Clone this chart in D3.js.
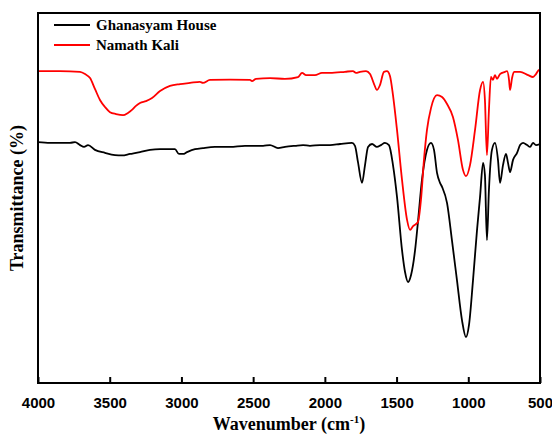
<!DOCTYPE html>
<html>
<head>
<meta charset="utf-8">
<script src="https://cdn.jsdelivr.net/npm/d3@7"></script>
<style>
  body { margin: 0; background: #fff; }
  svg { display: block; }
</style>
</head>
<body>
<svg id="chart" width="552" height="434"></svg>
<script>
// FTIR spectra: wavenumber (cm-1) vs transmittance (%)
const xTicks = [4000, 3500, 3000, 2500, 2000, 1500, 1000, 500];

const seriesNames = ['Ghanasyam House', 'Namath Kali'];
const seriesColors = ['#000000', '#ff0000'];

// Ghanasyam House (black)
const houseWave = [4000,3916,3847,3777,3742,3707,3679,3651,3603,3533,3463,3414,3359,3289,3219,3149,3080,3045,3017,2989,2961,2905,2850,2766,2661,2557,2431,2382,2327,2278,2208,2152,2104,2034,1964,1894,1811,1790,1769,1741,1720,1699,1671,1637,1609,1581,1553,1525,1497,1462,1441,1420,1399,1371,1351,1323,1288,1260,1239,1218,1197,1183,1148,1114,1079,1044,1016,995,967,939,918,897,884,870,856,835,814,793,779,758,737,723,709,688,660,639,618,590,569,549,528,500];
const houseT = [65.1,64.9,64.9,64.9,65.1,64.3,63.8,64.3,63.0,62.2,61.6,61.5,61.9,62.4,63.0,63.2,63.2,63.2,61.9,61.9,62.4,63.2,63.5,63.8,63.8,64.1,64.1,64.3,63.5,63.8,64.1,64.3,64.1,64.3,64.3,64.6,64.9,64.1,59.7,54.1,58.9,63.8,64.6,63.8,64.3,64.9,64.3,58.9,50.3,35.9,30.0,27.3,29.2,35.9,43.5,54.9,63.0,64.9,63.0,56.8,54.1,53.0,48.6,38.6,27.8,17.0,12.4,15.7,27.8,41.4,50.3,59.5,56.2,38.6,52.2,63.0,64.9,60.3,54.1,58.9,61.9,59.5,57.0,60.3,62.2,64.3,64.9,64.3,63.8,64.9,64.3,64.6];

// Namath Kali (red)
const kaliWave = [4000,3847,3707,3672,3637,3603,3568,3533,3498,3456,3407,3373,3345,3317,3289,3247,3205,3149,3080,3010,2940,2871,2850,2801,2661,2522,2508,2480,2382,2278,2187,2159,2131,2069,2020,1964,1860,1804,1783,1755,1713,1685,1657,1637,1616,1588,1567,1546,1525,1497,1462,1427,1406,1385,1351,1330,1309,1288,1260,1218,1183,1148,1107,1072,1037,1016,988,953,918,897,884,870,856,842,828,814,800,779,744,730,716,709,695,681,639,583,549,528,507,500];
const kaliT = [84.3,84.3,84.1,83.5,82.4,79.5,76.5,74.6,73.2,72.7,72.4,73.0,73.8,74.9,75.7,76.2,77.0,78.9,80.3,80.8,81.1,81.4,81.1,81.9,82.0,81.9,81.6,82.2,82.4,82.2,82.7,83.8,83.2,83.2,83.8,83.8,84.1,84.3,83.8,84.1,84.3,83.5,80.8,79.2,80.5,84.1,84.3,83.0,77.8,68.4,54.9,44.1,41.4,42.4,43.5,49.5,60.3,68.4,74.3,77.8,77.3,75.4,71.9,65.7,57.6,55.9,58.9,68.4,79.2,81.4,76.5,61.6,73.8,82.7,81.9,83.2,82.2,83.5,84.1,84.3,81.9,79.2,82.4,84.1,84.1,83.2,82.7,83.5,84.6,84.3];

const margin = {top: 13, right: 12, bottom: 51, left: 38};
const width = 552 - margin.left - margin.right;
const height = 434 - margin.top - margin.bottom;

const svg = d3.select('#chart');
const g = svg.append('g')
    .attr('transform', `translate(${margin.left},${margin.top})`);

const x = d3.scaleLinear().domain([4000, 500]).range([0, width]);
const y = d3.scaleLinear().domain([0, 100]).range([height, 0]);

const series = [
  houseWave.map((w, i) => ({w, t: houseT[i]})),
  kaliWave.map((w, i) => ({w, t: kaliT[i]}))
];

const line = d3.line()
  .x(d => x(d.w))
  .y(d => y(d.t))
  .curve(d3.curveMonotoneX);

series.forEach((data, i) => {
  g.append('path')
    .datum(data)
    .attr('fill', 'none')
    .attr('stroke', seriesColors[i])
    .attr('stroke-width', 1.8)
    .attr('stroke-linejoin', 'round')
    .attr('d', line);
});

// Bottom axis, ticks pointing inward
const xAxis = g.append('g')
  .attr('transform', `translate(0,${height})`)
  .call(d3.axisBottom(x).tickValues(xTicks).tickFormat(d3.format('d'))
    .tickSizeInner(-6).tickSizeOuter(0).tickPadding(14));
xAxis.select('.domain').remove();
xAxis.selectAll('line').attr('stroke', '#000').attr('stroke-width', 2);
xAxis.selectAll('text')
  .attr('font-family', 'Liberation Sans, Arial, sans-serif')
  .attr('font-weight', 'bold')
  .attr('font-size', '15px')
  .attr('fill', '#000');

// Frame
g.append('rect')
  .attr('width', width).attr('height', height)
  .attr('fill', 'none')
  .attr('stroke', '#000')
  .attr('stroke-width', 2);

// Axis titles
const xTitle = svg.append('text')
  .attr('x', margin.left + width / 2)
  .attr('y', 430)
  .attr('text-anchor', 'middle')
  .attr('font-family', 'Liberation Serif, Times New Roman, serif')
  .attr('font-weight', 'bold')
  .attr('font-size', '18px')
  .text('Wavenumber (cm');
xTitle.append('tspan')
  .attr('dy', -7).attr('font-size', '11px').text('-1');
xTitle.append('tspan')
  .attr('dy', 7).text(')');

svg.append('text')
  .attr('transform', `translate(23,${margin.top + height / 2}) rotate(-90)`)
  .attr('text-anchor', 'middle')
  .attr('font-family', 'Liberation Serif, Times New Roman, serif')
  .attr('font-weight', 'bold')
  .attr('font-size', '18px')
  .text('Transmittance (%)');

// Legend
const legend = g.append('g').attr('transform', 'translate(16,12)');
seriesNames.forEach((name, i) => {
  const row = legend.append('g').attr('transform', `translate(0,${i * 20})`);
  row.append('line')
    .attr('x1', 0).attr('x2', 36)
    .attr('stroke', seriesColors[i]).attr('stroke-width', 1.8);
  row.append('text')
    .attr('x', 42).attr('y', 5)
    .attr('font-family', 'Liberation Serif, Times New Roman, serif')
    .attr('font-weight', 'bold')
    .attr('font-size', '15px')
    .text(name);
});
</script>
</body>
</html>
